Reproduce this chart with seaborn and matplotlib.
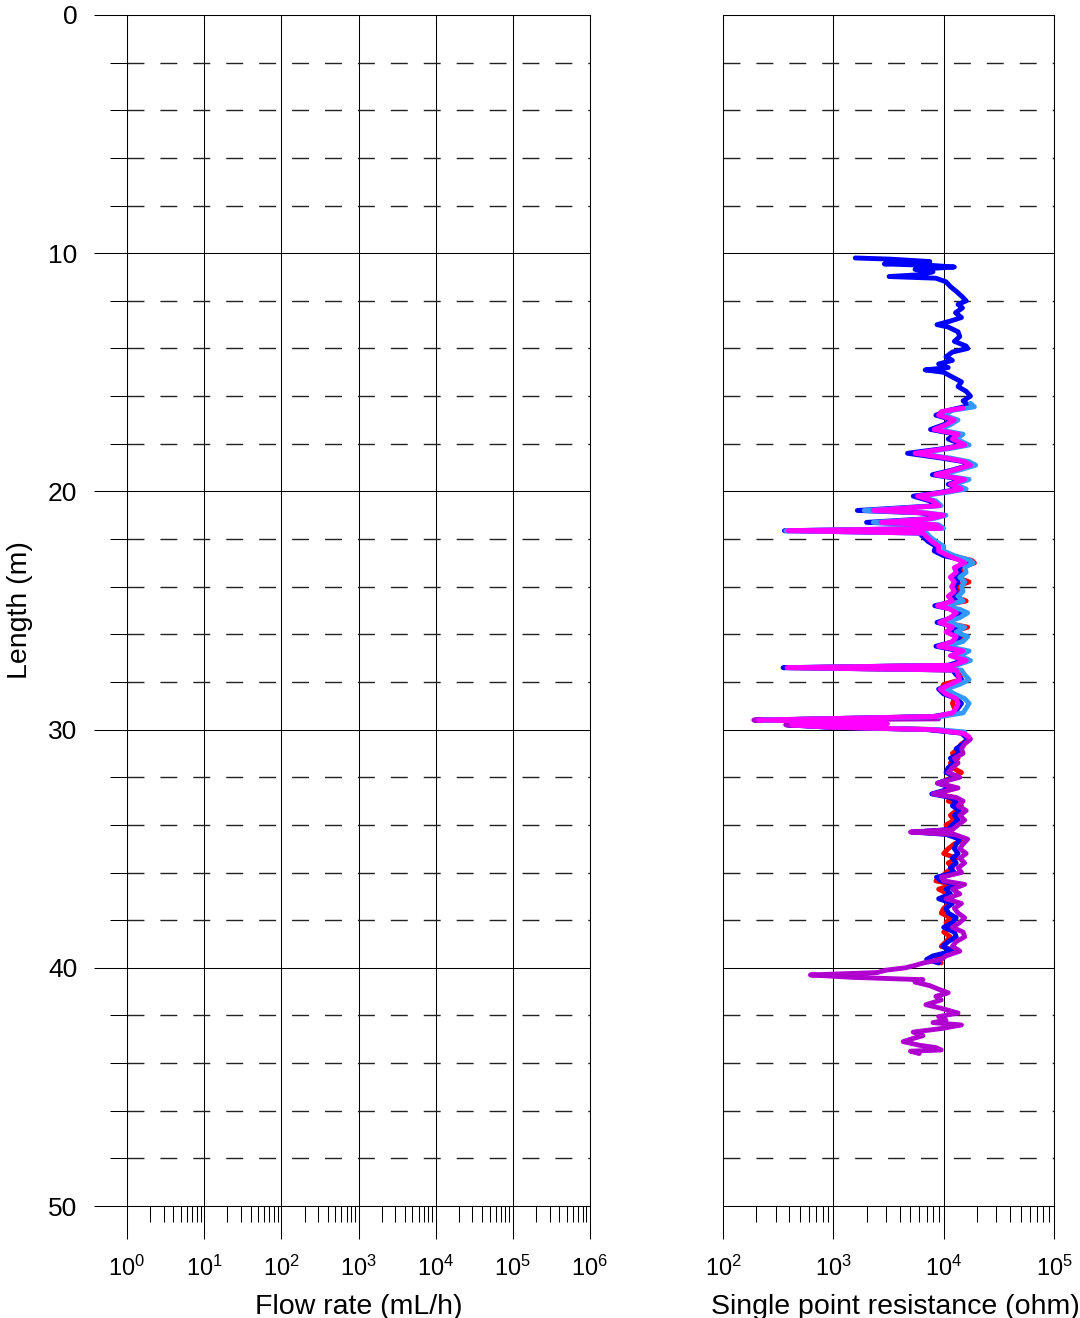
import numpy as np
import pandas as pd
import matplotlib
matplotlib.use("Agg")
import matplotlib.pyplot as plt
from matplotlib.ticker import MultipleLocator, LogLocator, NullFormatter
import seaborn as sns

# ---------------------------------------------------------------- data
# Single point resistance logs (ohm) against borehole length (m)
blue_depth = [10.20, 10.25, 10.35, 10.45, 10.52, 10.58, 10.68, 10.78, 10.90, 10.98,
              11.05, 11.20, 11.40, 11.60, 11.80, 12.00, 12.15, 12.30, 12.50, 12.70,
              12.85, 13.00, 13.10, 13.30, 13.50, 13.70, 13.90, 14.00, 14.15, 14.35,
              14.50, 14.65, 14.80, 14.90, 15.00, 15.20, 15.40, 15.60, 15.80, 16.00,
              16.20, 16.40, 16.60, 16.80, 17.00, 17.20, 17.40, 17.60, 17.80, 18.05,
              18.20, 18.40, 18.60, 18.75, 18.90, 19.10, 19.30, 19.50, 19.70, 19.90,
              20.05, 20.20, 20.40, 20.60, 20.80, 20.90, 21.00, 21.15, 21.30, 21.40,
              21.55, 21.65, 21.75, 21.90, 22.10, 22.30, 22.50, 22.70, 22.90, 23.00,
              23.20, 23.40, 23.60, 23.80, 24.00, 24.20, 24.40, 24.60, 24.80, 24.95,
              25.10, 25.30, 25.50, 25.70, 25.90, 26.10, 26.30, 26.50, 26.70, 26.90,
              27.10, 27.30, 27.40, 27.50, 27.70, 27.90, 28.10, 28.30, 28.50, 28.70,
              28.90, 29.10, 29.30, 29.45, 29.60, 29.70, 29.80, 29.90, 30.00, 30.15,
              30.40, 30.60, 30.80, 31.00, 31.20, 31.40, 31.60, 31.80, 32.00, 32.25,
              32.45, 32.70, 32.85, 33.00, 33.20, 33.40, 33.60, 33.80, 34.00, 34.20,
              34.30, 34.40, 34.60, 34.80, 35.00, 35.20, 35.40, 35.60, 35.80, 36.00,
              36.20, 36.35, 36.50, 36.70, 36.90, 37.10, 37.30, 37.50, 37.70, 37.90,
              38.10, 38.30, 38.50, 38.70, 38.90, 39.10, 39.30, 39.50, 39.65, 39.80]
blue_ohm = [1580, 3300, 7500, 2900, 8200, 12500, 5500, 8000, 6200, 3200,
            8500, 10500, 11500, 13000, 14500, 16000, 13500, 14800, 12800, 14500,
            11500, 8700, 11000, 13500, 14000, 12500, 16000, 16500, 12000, 10500,
            12000, 9000, 11000, 6800, 10000, 12000, 14500, 13500, 16000, 17500,
            15000, 17000, 11000, 8500, 12000, 10000, 7600, 13000, 11000, 15000,
            10000, 4700, 9500, 15000, 17000, 12000, 7900, 15000, 11000, 14000,
            9000, 5300, 7500, 8500, 1650, 6000, 9500, 7000, 2000, 8000,
            9000, 360, 6000, 6500, 7200, 8500, 8200, 10000, 15500, 16500,
            13500, 14000, 12000, 13500, 12500, 13000, 11500, 13000, 8300, 12000,
            14000, 12000, 8700, 13000, 11000, 14000, 12500, 8500, 14000, 12000,
            15000, 11000, 350, 12000, 13000, 14500, 12000, 9000, 10000, 13000,
            14500, 13500, 12500, 8000, 200, 2500, 380, 900, 7000, 14500,
            16500, 15000, 13000, 14000, 11500, 12500, 11000, 10500, 13000, 8800,
            12000, 7800, 11500, 13000, 12000, 14000, 12500, 13500, 12000, 11000,
            5300, 10500, 14000, 13000, 12500, 13500, 12000, 13000, 11500, 12500,
            8600, 9500, 13000, 10500, 11500, 9000, 12000, 10500, 11000, 13000,
            12000, 10000, 12500, 13000, 11000, 9800, 12000, 8000, 7000, 9000]

lightblue_depth = [16.30, 16.45, 16.60, 16.80, 17.00, 17.20, 17.40, 17.60, 17.80, 18.05,
                   18.20, 18.40, 18.60, 18.75, 18.90, 19.10, 19.30, 19.50, 19.70, 19.90,
                   20.05, 20.20, 20.40, 20.60, 20.80, 20.90, 21.00, 21.15, 21.30, 21.40,
                   21.55, 21.65, 21.75, 21.90, 22.10, 22.30, 22.50, 22.70, 22.90, 23.00,
                   23.20, 23.40, 23.60, 23.80, 24.00, 24.20, 24.40, 24.60, 24.80, 24.95,
                   25.10, 25.30, 25.50, 25.70, 25.90, 26.10, 26.30, 26.50, 26.70, 26.90,
                   27.10, 27.30, 27.40, 27.50, 27.70, 27.90, 28.10, 28.30, 28.50, 28.70,
                   28.90, 29.10, 29.30, 29.45, 29.60, 29.70, 29.80, 29.90, 30.00, 30.10]
lightblue_ohm = [17500, 19000, 12000, 10000, 13500, 11500, 9000, 15000, 13000, 17000,
                 11500, 5800, 11500, 17000, 19500, 14000, 9200, 17000, 12500, 16000,
                 10500, 6000, 8500, 9500, 1900, 7000, 10500, 8000, 2300, 9000,
                 10000, 370, 7000, 7500, 8500, 10000, 10000, 12500, 17500, 18500,
                 15500, 16000, 14000, 15500, 14500, 15000, 13500, 15000, 10000, 14000,
                 16500, 14000, 10500, 15500, 13000, 16500, 15000, 10500, 17000, 14000,
                 17500, 13000, 400, 14500, 15500, 17000, 14000, 10500, 12500, 15500,
                 17000, 16000, 15000, 9500, 230, 2700, 450, 1200, 9000, 15500]

magenta_depth = [16.50, 16.65, 16.80, 17.00, 17.20, 17.40, 17.60, 17.80, 18.05, 18.20,
                 18.40, 18.60, 18.75, 18.90, 19.10, 19.30, 19.50, 19.70, 19.90, 20.05,
                 20.20, 20.40, 20.60, 20.80, 20.90, 21.00, 21.15, 21.30, 21.40, 21.55,
                 21.65, 21.75, 21.90, 22.10, 22.30, 22.50, 22.70, 22.90, 23.00, 23.20,
                 23.40, 23.60, 23.80, 24.00, 24.20, 24.40, 24.60, 24.80, 24.95, 25.10,
                 25.30, 25.50, 25.70, 25.90, 26.10, 26.30, 26.50, 26.70, 26.90, 27.10,
                 27.30, 27.40, 27.50, 27.70, 27.90, 28.10, 28.30, 28.50, 28.70, 28.90,
                 29.10, 29.30, 29.45, 29.60, 29.70, 29.75, 29.80, 29.90, 30.00, 30.15,
                 30.30]
magenta_ohm = [15000, 9500, 9000, 12500, 10500, 8200, 13500, 12000, 15500, 10500,
               5500, 10500, 15500, 17500, 12500, 8500, 15500, 11500, 14500, 9500,
               5800, 8000, 9000, 2300, 6500, 10000, 7500, 2700, 8500, 9500,
               390, 6500, 7000, 7800, 9000, 9000, 11000, 14000, 15500, 12500,
               13000, 11500, 12500, 11800, 12500, 11000, 12000, 8800, 11500, 13000,
               11500, 9200, 12000, 10500, 13000, 12000, 9000, 15000, 11500, 16000,
               12000, 380, 13000, 13500, 14000, 11500, 9300, 10500, 13000, 13500,
               13000, 12000, 8500, 210, 3000, 3100, 420, 1000, 8000, 15000,
               17000]

red_depth = [22.70, 22.90, 23.00, 23.20, 23.40, 23.60, 23.80, 24.00, 24.20, 24.40,
             24.60, 24.80, 24.95, 25.10, 25.30, 25.50, 25.70, 25.90, 26.10, 26.30,
             26.50, 26.70, 26.90, 27.10, 27.30, 27.40, 27.50, 27.70, 27.90, 28.10,
             28.30, 28.50, 28.70, 28.90, 29.10, 29.30, 29.45, 29.60, 29.70, 29.80,
             29.90, 30.00, 30.15, 30.40, 30.60, 30.80, 31.00, 31.20, 31.40, 31.60,
             31.80, 32.00, 32.25, 32.45, 32.70, 32.85, 33.00, 33.20, 33.40, 33.60,
             33.80, 34.00, 34.20, 34.30, 34.40, 34.60, 34.80, 35.00, 35.20, 35.40,
             35.60, 35.80, 36.00, 36.20, 36.35, 36.50, 36.70, 36.90, 37.10, 37.30,
             37.50, 37.70, 37.90, 38.10, 38.30, 38.50, 38.70, 38.90, 39.10, 39.30,
             39.50, 39.65, 39.80]
red_ohm = [12000, 18000, 19000, 14000, 15000, 13000, 17000, 13000, 14500, 12500,
           16000, 9500, 13000, 15500, 13000, 10000, 16500, 12000, 15500, 14000,
           10000, 15500, 13000, 16000, 12500, 420, 13500, 14000, 14500, 10000,
           9500, 11000, 12500, 12000, 12500, 13000, 9000, 220, 2900, 400,
           1100, 8500, 15500, 17000, 14500, 13500, 12000, 13500, 11500, 12000,
           14500, 12000, 9000, 13000, 8500, 12500, 11000, 14500, 13000, 11500,
           12500, 10500, 12000, 5500, 12000, 15500, 12500, 11000, 10000, 13000,
           11000, 12000, 10500, 9500, 8500, 12000, 9000, 11000, 10000, 11500,
           10000, 9500, 11500, 10500, 12000, 10000, 11500, 10500, 9500, 13000,
           10000, 8500, 9500]

purple_depth = [29.55, 29.60, 29.70, 29.80, 29.90, 30.00, 30.15, 30.40, 30.60, 30.80,
                31.00, 31.20, 31.40, 31.60, 31.80, 32.00, 32.25, 32.45, 32.70, 32.85,
                33.00, 33.20, 33.40, 33.60, 33.80, 34.00, 34.20, 34.30, 34.40, 34.60,
                34.80, 35.00, 35.20, 35.40, 35.60, 35.80, 36.00, 36.20, 36.35, 36.50,
                36.70, 36.90, 37.10, 37.30, 37.50, 37.70, 37.90, 38.10, 38.30, 38.50,
                38.70, 38.90, 39.10, 39.30, 39.50, 39.65, 39.80, 39.90, 40.00, 40.10,
                40.20, 40.30, 40.40, 40.50, 40.60, 40.75, 40.90, 41.05, 41.20, 41.35,
                41.55, 41.70, 41.90, 42.05, 42.20, 42.30, 42.40, 42.55, 42.70, 42.85,
                43.00, 43.10, 43.25, 43.35, 43.45, 43.50, 43.60]
purple_ohm = [9000, 190, 2600, 370, 950, 7500, 15000, 17500, 15500, 14500,
              15000, 12500, 13500, 12000, 11000, 14000, 8800, 13500, 8000, 13000,
              15000, 13500, 16000, 14000, 15500, 13500, 12000, 5000, 12500, 16500,
              15000, 14000, 16000, 14000, 15500, 13500, 14500, 9500, 10000, 15500,
              12000, 14000, 10500, 14500, 12500, 13500, 15500, 14000, 12000, 15000,
              15500, 13000, 12000, 14000, 10500, 9500, 6500, 5500, 4500, 3000,
              2500, 620, 1500, 6500, 5500, 7500, 9000, 11000, 8500, 9500,
              6900, 9500, 13500, 9000, 10500, 8000, 14500, 9500, 5300, 6500,
              5000, 4300, 6000, 8500, 9500, 5000, 6000]

# drawing order: later runs sit on top
run_names = ["red", "blue", "purple", "lightblue", "magenta"]
run_colors = ["#FF0000", "#0000FF", "#B000D0", "#3399FF", "#FF00FF"]

flow_ticks = [1e0, 1e6]
spr_ticks = [1e2, 1e5]
depth_range = [50, 0]

# ---------------------------------------------------------------- frame
logs = {
    "red": (red_depth, red_ohm),
    "blue": (blue_depth, blue_ohm),
    "purple": (purple_depth, purple_ohm),
    "lightblue": (lightblue_depth, lightblue_ohm),
    "magenta": (magenta_depth, magenta_ohm),
}
df = pd.concat(
    [pd.DataFrame({"depth": d, "resistance": r, "run": k}) for k, (d, r) in logs.items()],
    ignore_index=True,
)

# ---------------------------------------------------------------- style
sns.set_theme(style="white")
plt.rcParams.update({
    "font.family": ["Liberation Sans", "DejaVu Sans"],
    "mathtext.fontset": "custom",
    "mathtext.rm": "Liberation Sans",
    "mathtext.it": "Liberation Sans:italic",
    "mathtext.bf": "Liberation Sans:bold",
    "axes.edgecolor": "black",
    "axes.linewidth": 0.75,
    "xtick.color": "black",
    "ytick.color": "black",
    "text.color": "black",
    "axes.labelcolor": "black",
})

W, H = 1080, 1318
fig = plt.figure(figsize=(W / 100, H / 100), dpi=100)


def box(x0, x1, y0, y1):
    return [x0 / W, 1 - y1 / H, (x1 - x0) / W, (y1 - y0) / H]


ax_flow = fig.add_axes(box(127, 590, 15, 1206))
ax_spr = fig.add_axes(box(723, 1054, 15, 1206))


def style_axis(ax, xlim, show_y):
    ax.set_xscale("log")
    ax.set_xlim(*xlim)
    ax.set_ylim(*depth_range)
    ax.yaxis.set_major_locator(MultipleLocator(10))
    ax.yaxis.set_minor_locator(MultipleLocator(2))
    ax.xaxis.set_major_locator(LogLocator(base=10, numticks=20))
    ax.xaxis.set_minor_locator(LogLocator(base=10, subs=np.arange(2, 10), numticks=20))
    ax.xaxis.set_minor_formatter(NullFormatter())
    ax.grid(False)
    ax.set_axisbelow(True)
    ax.grid(True, which="major", axis="both", color="black", lw=0.75, ls="-")
    # dashed 2 m lines (lw 1 keeps the dash pattern in points)
    ax.grid(True, which="minor", axis="y", color="#222222", lw=1.0, ls=(0, (12.2, 11.5)))
    ax.tick_params(axis="x", which="major", direction="out", length=23.8, width=0.75,
                   pad=12, labelsize=17, bottom=True, top=False)
    ax.tick_params(axis="x", which="minor", direction="out", length=11.5, width=0.75,
                   bottom=True, top=False)
    for s in ax.spines.values():
        s.set_visible(True)
        s.set_color("black")
        s.set_linewidth(0.75)
    if show_y:
        ax.tick_params(axis="y", which="major", direction="out", length=23.8, width=0.75,
                       pad=12, labelsize=19, left=True, right=False)
        ax.tick_params(axis="y", which="minor", direction="out", length=12.2, width=0.75,
                       left=True, right=False)
    else:
        ax.tick_params(axis="y", which="both", left=False, right=False, labelleft=False)


style_axis(ax_flow, flow_ticks, True)
style_axis(ax_spr, spr_ticks, False)

sns.lineplot(data=df, x="resistance", y="depth", hue="run", hue_order=run_names,
             palette=run_colors, sort=False, estimator=None, orient="y",
             lw=3.5, legend=False, ax=ax_spr)
ax_spr.set_xlim(*spr_ticks)
ax_spr.set_ylim(*depth_range)

ax_flow.set_xlabel("Flow rate (mL/h)", fontsize=20.5)
ax_flow.xaxis.set_label_coords(0.5, -0.0735)
ax_flow.set_ylabel("Length (m)", fontsize=20.5)
ax_flow.yaxis.set_label_coords(-0.203, 0.5)

ax_spr.set_xlabel("Single point resistance (ohm)", fontsize=20.5)
ax_spr.xaxis.set_label_coords(0.52, -0.0735)
ax_spr.set_ylabel("")

fig.savefig("out.png", dpi=100)
